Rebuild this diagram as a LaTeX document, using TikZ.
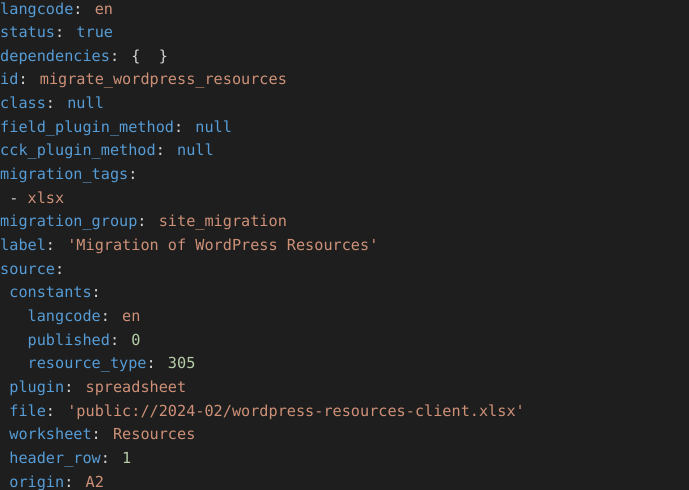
\documentclass[tikz,border=0pt]{standalone}
\usepackage{fontspec}
\newfontfamily\codefont{DejaVu Sans Mono}
\definecolor{bg}{HTML}{1E1E1E}
\definecolor{kc}{HTML}{569CD6}
\definecolor{sc}{HTML}{CE9178}
\definecolor{nc}{HTML}{B5CEA8}
\definecolor{pc}{HTML}{D4D4D4}
\newcommand{\K}[1]{\textcolor{kc}{#1}}
\newcommand{\Sv}[1]{\textcolor{sc}{#1}}
\newcommand{\N}[1]{\textcolor{nc}{#1}}
\newcommand{\Pn}[1]{\textcolor{pc}{#1}}
\newcommand{\q}{{\char"27}}
\begin{document}
\begin{tikzpicture}[x=1pt,y=-1pt,
  codeline/.style={anchor=base west,inner sep=0pt,font=\codefont\fontsize{15.2}{18}\selectfont,text=pc}]
\fill[bg] (0,0) rectangle (689,490);
\useasboundingbox (0,0) rectangle (689,490);
\newcommand{\Ln}[4]{\node[codeline] (#1) at (#3*9.15,14+#2*23.65) {#4};}
\Ln{l0}{0}{0}{\K{langcode}\Pn{:} \Sv{en}}
\Ln{l1}{1}{0}{\K{status}\Pn{:} \K{true}}
\Ln{l2}{2}{0}{\K{dependencies}\Pn{:} \Pn{\{\ \ \}}}
\Ln{l3}{3}{0}{\K{id}\Pn{:} \Sv{migrate\_wordpress\_resources}}
\Ln{l4}{4}{0}{\K{class}\Pn{:} \K{null}}
\Ln{l5}{5}{0}{\K{field\_plugin\_method}\Pn{:} \K{null}}
\Ln{l6}{6}{0}{\K{cck\_plugin\_method}\Pn{:} \K{null}}
\Ln{l7}{7}{0}{\K{migration\_tags}\Pn{:}}
\Ln{l8}{8}{1}{\Pn{-} \Sv{xlsx}}
\Ln{l9}{9}{0}{\K{migration\_group}\Pn{:} \Sv{site\_migration}}
\Ln{l10}{10}{0}{\K{label}\Pn{:} \Sv{\q Migration of WordPress Resources\q}}
\Ln{l11}{11}{0}{\K{source}\Pn{:}}
\Ln{l12}{12}{1}{\K{constants}\Pn{:}}
\Ln{l13}{13}{3}{\K{langcode}\Pn{:} \Sv{en}}
\Ln{l14}{14}{3}{\K{published}\Pn{:} \N{0}}
\Ln{l15}{15}{3}{\K{resource\_type}\Pn{:} \N{305}}
\Ln{l16}{16}{1}{\K{plugin}\Pn{:} \Sv{spreadsheet}}
\Ln{l17}{17}{1}{\K{file}\Pn{:} \Sv{\q public://2024-02/wordpress-resources-client.xlsx\q}}
\Ln{l18}{18}{1}{\K{worksheet}\Pn{:} \Sv{Resources}}
\Ln{l19}{19}{1}{\K{header\_row}\Pn{:} \N{1}}
\Ln{l20}{20}{1}{\K{origin}\Pn{:} \Sv{A2}}
\end{tikzpicture}
\end{document}
